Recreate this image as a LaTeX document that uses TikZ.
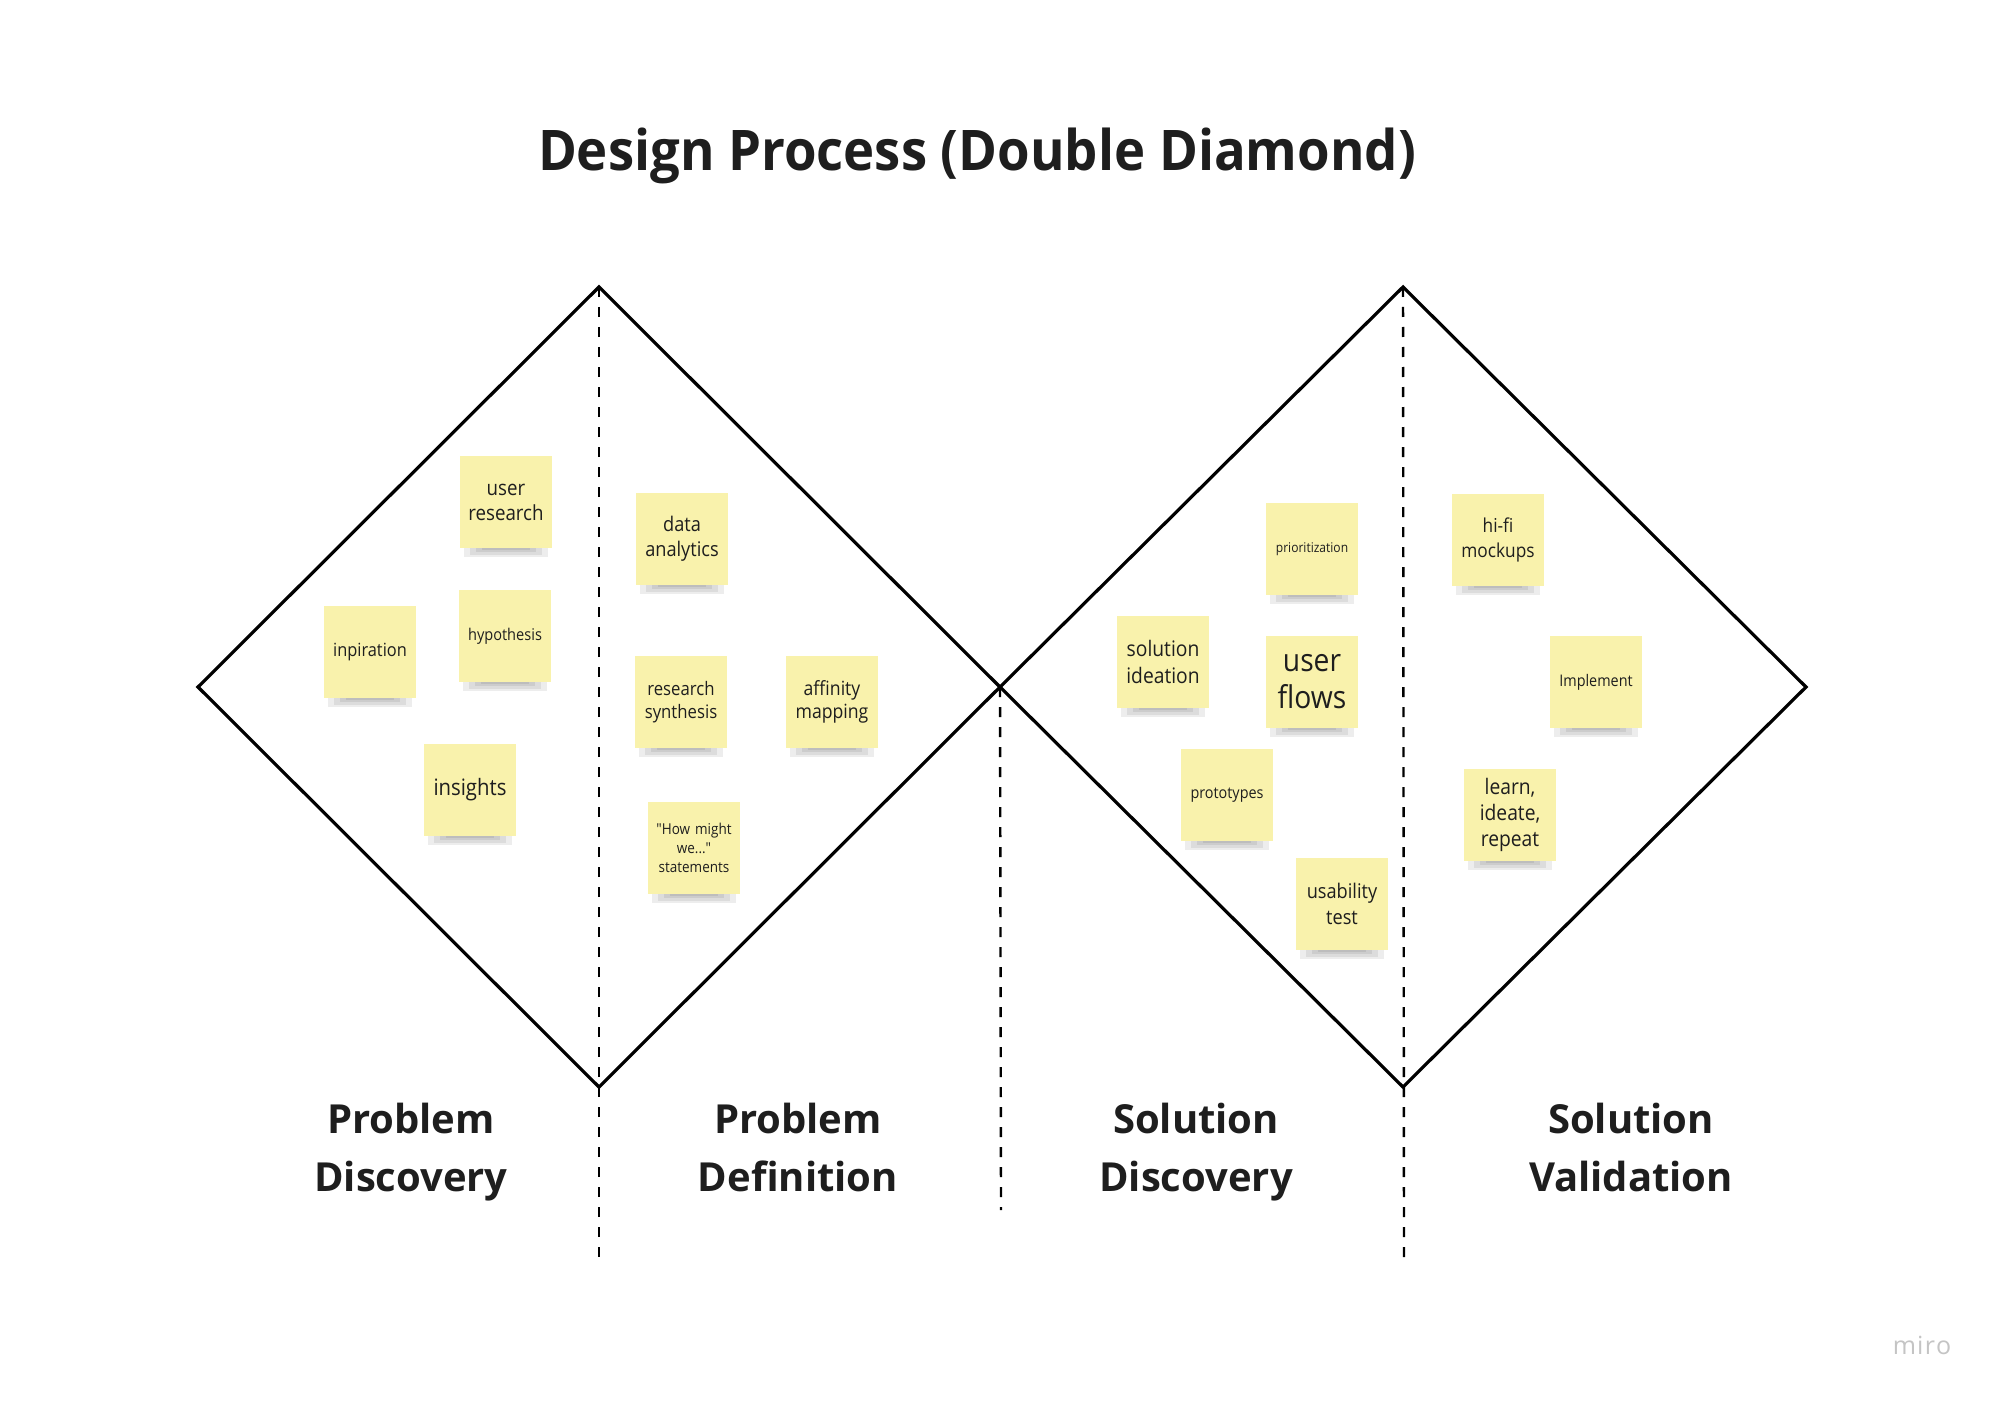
\documentclass[tikz,border=0pt]{standalone}
\usepackage{fontspec}
\setmainfont{Open Sans}
\newfontfamily\stickyfont[FakeStretch=0.9]{Open Sans}
\newfontfamily\titlefont[FakeStretch=0.94]{Open Sans}
\usetikzlibrary{backgrounds}
\definecolor{stickyfill}{HTML}{F9F2AC}
\definecolor{inktext}{HTML}{1E1E1E}
\definecolor{watermark}{HTML}{C4C4C4}
\tikzset{
  diamondline/.style={line width=1.6pt, line join=miter, black},
  guide/.style={line width=1.2pt, dash pattern=on 5pt off 5pt, black},
  sticky/.style={fill=stickyfill, minimum width=46pt, minimum height=46pt, inner sep=0pt,
    text width=44pt, align=center, text=inktext},
  phase/.style={font=\fontsize{20}{29}\selectfont\bfseries, align=center, text=inktext, inner sep=0pt, anchor=north},
  shadowlayer/.style={fill=black, opacity=0.07},
}
\newcommand{\sfs}[2]{\stickyfont\fontsize{#1}{#2}\selectfont}
\newcommand{\stickyshadow}[1]{%
  \fill[shadowlayer] ([xshift=2pt,yshift=1pt]#1.south west) rectangle ([xshift=-2pt,yshift=-4.5pt]#1.south east);
  \fill[shadowlayer] ([xshift=5pt,yshift=1pt]#1.south west) rectangle ([xshift=-5pt,yshift=-3.2pt]#1.south east);
  \fill[shadowlayer] ([xshift=8pt,yshift=1pt]#1.south west) rectangle ([xshift=-8pt,yshift=-2pt]#1.south east);
  \fill[shadowlayer] ([xshift=11pt,yshift=1pt]#1.south west) rectangle ([xshift=-11pt,yshift=-1pt]#1.south east);
}
\begin{document}
\begin{tikzpicture}[x=0.5pt, y=-0.5pt]
\useasboundingbox (0,0) rectangle (2000,1401);

% title
\node[font=\titlefont\fontsize{28}{34}\selectfont\bfseries, text=inktext] (title) at (977,156) {Design Process (Double Diamond)};

% diamond vertices
\coordinate (dl) at (198,687);
\coordinate (dt) at (599,287);
\coordinate (dm) at (1000,687);
\coordinate (db) at (599,1087);
\coordinate (et) at (1403,287);
\coordinate (er) at (1806,687);
\coordinate (eb) at (1403,1087);

\draw[diamondline] (dl) -- (dt) -- (dm) -- (db) -- cycle;
\draw[diamondline] (dm) -- (et) -- (er) -- (eb) -- cycle;

% dashed guides
\coordinate (g1) at (599,1263);
\coordinate (g2) at (1001,1210);
\coordinate (g3) at (1404,1263);
\draw[guide] (dt) -- (g1);
\draw[guide] (dm) -- (g2);
\draw[guide] (et) -- (g3);

% sticky notes
\node[sticky, font=\sfs{10.4}{12.5}] (usr) at (506,502) {user\\research};
\node[sticky, font=\sfs{8.1}{9}] (hyp) at (505,636) {hypothesis};
\node[sticky, font=\sfs{9.1}{11}] (insp) at (370,652) {inpiration};
\node[sticky, font=\sfs{11.3}{14}] (ins) at (470,790) {insights};
\node[sticky, font=\sfs{10.1}{12.5}] (data) at (682,539) {data\\analytics};
\node[sticky, font=\sfs{9.3}{11.7}] (rs) at (681,702) {research\\synthesis};
\node[sticky, font=\sfs{9.8}{11.7}] (aff) at (832,702) {affinity\\mapping};
\node[sticky, font=\sfs{7.5}{9.5}] (hmw) at (694,848) {\char34 How might\\we...\char34\\statements};
\node[sticky, font=\sfs{6.7}{8}] (pri) at (1312,549) {prioritization};
\node[sticky, font=\sfs{10.7}{13.3}] (sol) at (1163,662) {solution\\ideation};
\node[sticky, font=\sfs{15.7}{18.5}] (uf) at (1312,682) {user\\flows};
\node[sticky, font=\sfs{8}{9}] (pro) at (1227,795) {prototypes};
\node[sticky, font=\sfs{10.1}{13}] (usa) at (1342,904) {usability\\test};
\node[sticky, font=\sfs{9.6}{12.5}] (hifi) at (1498,540) {hi-fi\\mockups};
\node[sticky, font=\sfs{8}{9}] (imp) at (1596,682) {Implement};
\node[sticky, font=\sfs{10.7}{13}] (lir) at (1510,815) {learn,\\ideate,\\repeat};

\begin{scope}[on background layer]
\fill[white] (0,0) rectangle (2000,1401);
\foreach \n in {usr,hyp,insp,ins,data,rs,aff,hmw,pri,sol,uf,pro,usa,hifi,imp,lir}{\stickyshadow{\n}}
\end{scope}

% phase labels
\node[phase] (p1) at (411,1103) {Problem\\Discovery};
\node[phase] (p2) at (798,1103) {Problem\\Definition};
\node[phase] (p3) at (1196,1103) {Solution\\Discovery};
\node[phase] (p4) at (1631,1103) {Solution\\Validation};

% watermark
\node[font=\fontsize{12.5}{14}\selectfont, text=watermark] (miro) at (1922,1345) {m\kern0.6pt i\kern0.6pt r\kern0.6pt o};
\end{tikzpicture}
\end{document}
